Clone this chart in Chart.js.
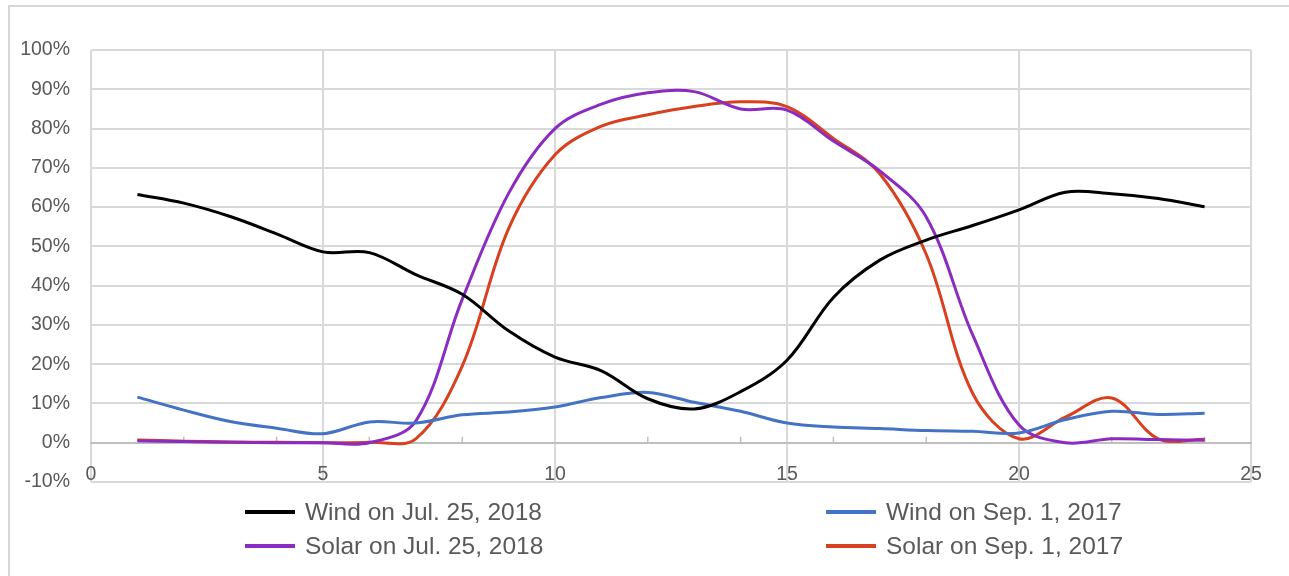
<!DOCTYPE html>
<html>
<head>
<meta charset="utf-8">
<script src="https://cdn.jsdelivr.net/npm/chart.js@4.4.1/dist/chart.umd.min.js"></script>
<style>
  html, body { margin: 0; padding: 0; background: #ffffff; }
  #wrap { position: relative; width: 1289px; height: 576px; overflow: hidden; }
  #frame { position: absolute; left: 8px; top: 5px; width: 1400px; height: 700px;
           border-left: 2px solid #d6d6d6; border-top: 2px solid #d6d6d6; pointer-events: none; }
  canvas { position: absolute; left: 0; top: 0; }
  .lg { position: absolute; font-family: "Liberation Sans", Arial, sans-serif; font-size: 24.5px;
        color: #595959; white-space: nowrap; line-height: 30px; height: 30px; }
  .lg .sw { position: absolute; left: 0; top: 13px; width: 50px; height: 4px; }
  .lg .tx { position: absolute; left: 60px; top: 0; }
</style>
</head>
<body>
<div id="wrap">
  <canvas id="c" width="1289" height="576"></canvas>
  <div id="frame"></div>
</div>
<script>
const hours = [1,2,3,4,5,6,7,8,9,10,11,12,13,14,15,16,17,18,19,20,21,22,23,24];
const seriesLabels = ["Wind on Jul. 25, 2018", "Wind on Sep. 1, 2017", "Solar on Jul. 25, 2018", "Solar on Sep. 1, 2017"];
const windJul2018  = [63.2, 61.0, 57.6, 53.2, 48.6, 48.4, 42.8, 37.8, 28.5, 21.8, 18.3, 11.2, 8.6, 13.0, 21.0, 37.0, 46.5, 51.6, 55.3, 59.3, 63.8, 63.4, 62.2, 60.1];
const windSep2017  = [11.6, 8.3, 5.4, 3.7, 2.3, 5.3, 5.0, 7.1, 7.8, 9.1, 11.5, 12.8, 10.3, 8.0, 5.0, 4.0, 3.6, 3.1, 2.9, 2.5, 5.9, 8.0, 7.2, 7.5];
const solarJul2018 = [0.5, 0.3, 0.1, 0.0, 0.0, 0.0, 5.5, 36.5, 63.5, 80.0, 86.2, 89.1, 89.4, 85.0, 84.7, 76.8, 69.2, 57.5, 27.5, 4.5, 0.0, 1.0, 0.8, 0.6];
const solarSep2017 = [0.7, 0.4, 0.2, 0.1, 0.0, 0.1, 1.0, 19.5, 54.5, 73.3, 80.6, 83.5, 85.6, 86.8, 85.6, 77.5, 68.5, 48.0, 12.6, 1.0, 6.5, 11.4, 1.0, 0.9];
const xTicks = [0, 5, 10, 15, 20, 25];
const yTicks = [-10, 0, 10, 20, 30, 40, 50, 60, 70, 80, 90, 100];
const minorXTicks = [2, 4, 6, 8, 12, 14, 16, 18, 22, 24];

const colors = ["#000000", "#4472C4", "#8A2BC2", "#D8401F"];
const allSeries = [windJul2018, windSep2017, solarJul2018, solarSep2017];

const toPts = arr => hours.map((h, i) => ({ x: h, y: arr[i] }));
const FONT = '"Liberation Sans", Arial, sans-serif';

const minorTicksPlugin = {
  id: 'minorTicks',
  beforeDatasetsDraw(chart) {
    const { ctx, scales: { x, y } } = chart;
    const y0 = y.getPixelForValue(0);
    ctx.save();
    ctx.strokeStyle = '#bfbfbf';
    ctx.lineWidth = 1.5;
    minorXTicks.forEach(v => {
      const px = x.getPixelForValue(v);
      ctx.beginPath();
      ctx.moveTo(px, y0 - 6);
      ctx.lineTo(px, y0);
      ctx.stroke();
    });
    ctx.restore();
  }
};

const chart = new Chart(document.getElementById('c'), {
  type: 'line',
  data: {
    datasets: allSeries.map((s, i) => ({
      label: seriesLabels[i],
      data: toPts(s),
      borderColor: colors[i],
      backgroundColor: colors[i],
      borderWidth: 3,
      pointRadius: 0,
      tension: 0.35,
      fill: false
    }))
  },
  options: {
    responsive: false,
    animation: false,
    layout: { padding: { left: 0, top: 50, right: 38, bottom: 94 } },
    plugins: { legend: { display: false }, tooltip: { enabled: false } },
    scales: {
      x: {
        type: 'linear', min: 0, max: 25,
        position: { y: 0 },
        afterBuildTicks: s => { s.ticks = xTicks.map(v => ({ value: v })); },
        ticks: { color: '#595959', font: { family: FONT, size: 19.5 }, padding: 20, maxRotation: 0, autoSkip: false },
        grid: { color: '#d9d9d9', lineWidth: 2, drawTicks: false },
        border: { color: '#bfbfbf', width: 2 }
      },
      y: {
        type: 'linear', min: -10, max: 100,
        afterBuildTicks: s => { s.ticks = yTicks.map(v => ({ value: v })); },
        afterFit: s => { s.width = 91; },
        ticks: { color: '#595959', font: { family: FONT, size: 19.5 }, padding: 21, callback: v => v + '%', autoSkip: false },
        grid: { color: '#d9d9d9', lineWidth: 2, drawTicks: false },
        border: { display: false }
      }
    }
  },
  plugins: [minorTicksPlugin]
});

// HTML legend built from the chart's datasets (two columns, two rows)
const colLeft = [245, 826];
const rowTop = [497, 531];
chart.data.datasets.forEach((ds, i) => {
  const d = document.createElement('div');
  d.className = 'lg';
  d.style.left = colLeft[i % 2] + 'px';
  d.style.top = rowTop[Math.floor(i / 2)] + 'px';
  const sw = document.createElement('div');
  sw.className = 'sw';
  sw.style.background = ds.borderColor;
  const tx = document.createElement('span');
  tx.className = 'tx';
  tx.textContent = ds.label;
  d.appendChild(sw); d.appendChild(tx);
  document.getElementById('wrap').appendChild(d);
});
</script>
</body>
</html>
